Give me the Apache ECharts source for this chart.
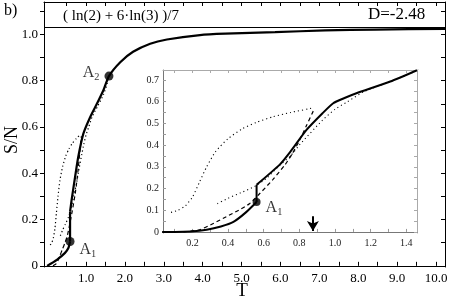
<!DOCTYPE html>
<html>
<head>
<meta charset="utf-8">
<script src="https://cdn.jsdelivr.net/npm/echarts@6.0.0/dist/echarts.min.js"></script>
<style>
  html, body { margin: 0; padding: 0; background: #fff; }
  #chart { width: 450px; height: 300px; }
</style>
</head>
<body>
<div id="chart"></div>
<script>
// data: [T, S/N]
const solidMainLow = [
  [0, 0], [0.25, 0.026], [0.46, 0.056], [0.55, 0.078], [0.59, 0.105]
];
const solidMainHigh = [
  [0.59, 0.234], [0.63, 0.285], [0.72, 0.385], [0.8, 0.47], [0.93, 0.57],
  [1.1, 0.64], [1.28, 0.7], [1.45, 0.76], [1.59, 0.82], [1.88, 0.88],
  [2.21, 0.925], [2.65, 0.96], [3.08, 0.978], [3.93, 0.997], [4.58, 1.003],
  [5.86, 1.01], [7.15, 1.017], [8.43, 1.021], [10.23, 1.024]
];
const solidInsetLow = [
  [0.03, 0], [0.1, 0], [0.19, 0.002], [0.28, 0.01], [0.36, 0.025],
  [0.43, 0.046], [0.5, 0.09], [0.56, 0.138]
];
const solidInsetHigh = [
  [0.56, 0.217], [0.69, 0.31], [0.75, 0.37], [0.84, 0.47], [0.93, 0.547],
  [0.99, 0.593], [1.05, 0.616], [1.12, 0.639], [1.31, 0.693], [1.46, 0.745]
];
const dashed = [
  [0.15, 0], [0.24, 0.01], [0.32, 0.04], [0.39, 0.07], [0.46, 0.1],
  [0.52, 0.13], [0.57, 0.17], [0.65, 0.24], [0.72, 0.31], [0.76, 0.36],
  [0.8, 0.42], [0.84, 0.49], [0.88, 0.56]
];
const dottedUpper = [
  [0.08, 0.09], [0.12, 0.1], [0.16, 0.12], [0.2, 0.16], [0.24, 0.23],
  [0.28, 0.3], [0.33, 0.37], [0.4, 0.43], [0.48, 0.475], [0.56, 0.505],
  [0.65, 0.53], [0.75, 0.55], [0.87, 0.57]
];
const dottedLower = [
  [0.34, 0.13], [0.4, 0.155], [0.47, 0.18], [0.55, 0.21], [0.62, 0.25],
  [0.68, 0.3], [0.75, 0.35], [0.8, 0.4], [0.93, 0.515], [1.0, 0.565],
  [1.07, 0.6], [1.16, 0.645], [1.3, 0.69], [1.45, 0.74], [1.55, 0.79]
];
const a1Main = [0.59, 0.105];
const a2Main = [1.59, 0.82];
const a1Inset = [0.56, 0.138];
const limitValue = 1.03;   // (ln2 + 6 ln3)/7 line
const arrowT = 0.876;

const mainXLabels = [1, 2, 3, 4, 5, 6, 7, 8, 9, 10];
const mainYLabels = [0, 0.2, 0.4, 0.6, 0.8, 1.0];
const insetXLabels = [0.2, 0.4, 0.6, 0.8, 1.0, 1.2, 1.4];
const insetYLabels = [0, 0.1, 0.2, 0.3, 0.4, 0.5, 0.6, 0.7];

const serif = "Liberation Serif";

function steps(from, to, step) {
  const out = [];
  for (let v = from; v <= to + 1e-9; v += step) out.push(+v.toFixed(3));
  return out;
}

const chart = echarts.init(document.getElementById("chart"));

const ptLabel = (pos, offset, size, sub) => ({
  show: true,
  position: pos,
  offset: offset,
  formatter: "{a|A}{s|" + sub + "}",
  rich: {
    a: { fontFamily: serif, fontSize: size, color: "#000", lineHeight: size + 3 },
    s: { fontFamily: serif, fontSize: size * 0.65, color: "#000", verticalAlign: "bottom", lineHeight: size * 0.65 }
  }
});

// axis 0 = main panel, axis 2 = inset
const curve = (axis, data, style, z) => ({
  type: "line", xAxisIndex: axis, yAxisIndex: axis, data: data,
  showSymbol: false, smooth: 0.2, z: z, clip: true,
  lineStyle: Object.assign({ color: "#000" }, style)
});
const dotStyle = { width: 1.2, type: [1.2, 2.6] };
const dashStyle = { width: 1.2, type: [4, 3] };

const option = {
  animation: false,
  backgroundColor: "#fff",
  grid: [
    { left: 44, right: 5, top: 2, bottom: 33, show: false, outerBoundsMode: "none" },
    { left: 163, right: 33, top: 70, bottom: 67, show: true, backgroundColor: "#fff", borderWidth: 0, z: 5, outerBoundsMode: "none" }
  ],
  xAxis: [
    {
      gridIndex: 0, type: "value", min: -0.08, max: 10.23,
      splitLine: { show: false },
      axisLine: { lineStyle: { color: "#000", width: 1 } },
      axisTick: { inside: true, length: 4, customValues: steps(0.5, 10, 0.5), lineStyle: { color: "#000" } },
      axisLabel: {
        customValues: mainXLabels, formatter: (v) => v.toFixed(1),
        fontFamily: serif, fontSize: 13, color: "#000", margin: 5
      }
    },
    {
      gridIndex: 0, type: "value", position: "top", min: -0.08, max: 10.23,
      splitLine: { show: false },
      axisLine: { onZero: false, lineStyle: { color: "#000" } },
      axisTick: { inside: true, length: 4, customValues: steps(0.5, 10, 0.5), lineStyle: { color: "#000" } },
      axisLabel: { show: false }
    },
    {
      gridIndex: 1, type: "value", min: 0.035, max: 1.46, z: 6,
      splitLine: { show: false },
      axisLine: { lineStyle: { color: "#777" } },
      axisTick: { inside: true, length: 3, customValues: steps(0.1, 1.4, 0.1), lineStyle: { color: "#999" } },
      axisLabel: {
        customValues: insetXLabels, formatter: (v) => v.toFixed(1),
        fontFamily: serif, fontSize: 10, color: "#222", margin: 5
      }
    },
    {
      gridIndex: 1, type: "value", position: "top", min: 0.035, max: 1.46, z: 6,
      splitLine: { show: false },
      axisLine: { onZero: false, lineStyle: { color: "#aaa" } },
      axisTick: { inside: true, length: 3, customValues: steps(0.1, 1.4, 0.1), lineStyle: { color: "#aaa" } },
      axisLabel: { show: false }
    }
  ],
  yAxis: [
    {
      gridIndex: 0, type: "value", min: -0.005, max: 1.14,
      splitLine: { show: false },
      axisLine: { onZero: false, lineStyle: { color: "#000" } },
      axisTick: { inside: false, length: 4, customValues: steps(0, 1.1, 0.1), lineStyle: { color: "#000" } },
      axisLabel: {
        customValues: mainYLabels, formatter: (v) => (v === 0 ? "0" : v.toFixed(1)),
        fontFamily: serif, fontSize: 13, color: "#000", margin: 6
      }
    },
    {
      gridIndex: 0, type: "value", position: "right", min: -0.005, max: 1.14,
      splitLine: { show: false },
      axisLine: { onZero: false, lineStyle: { color: "#000" } },
      axisTick: { inside: true, length: 4, customValues: steps(0, 1.1, 0.1), lineStyle: { color: "#000" } },
      axisLabel: { show: false }
    },
    {
      gridIndex: 1, type: "value", min: -0.005, max: 0.746, z: 6,
      splitLine: { show: false },
      axisLine: { onZero: false, lineStyle: { color: "#777" } },
      axisTick: { inside: true, length: 3, customValues: steps(0, 0.7, 0.05), lineStyle: { color: "#999" } },
      axisLabel: {
        customValues: insetYLabels, formatter: (v) => (v === 0 ? "0" : v.toFixed(1)),
        fontFamily: serif, fontSize: 10, color: "#222", margin: 4
      }
    },
    {
      gridIndex: 1, type: "value", position: "right", min: -0.005, max: 0.746, z: 6,
      splitLine: { show: false },
      axisLine: { onZero: false, lineStyle: { color: "#aaa" } },
      axisTick: { inside: true, length: 3, customValues: steps(0, 0.7, 0.05), lineStyle: { color: "#aaa" } },
      axisLabel: { show: false }
    }
  ],
  graphic: [
    { type: "text", left: 4, top: 3, style: { text: "b)", font: "16px 'Liberation Serif'", fill: "#000" } },
    { type: "text", left: 63, top: 9, style: { text: "( ln(2) + 6·ln(3) )/7", font: "15px 'Liberation Serif'", fill: "#000" } },
    { type: "text", left: 368, top: 6, style: { text: "D=-2.48", font: "17px 'Liberation Serif'", fill: "#000" } },
    // axis titles
    { type: "text", x: 242, y: 291, style: { text: "T", font: "19px 'Liberation Serif'", fill: "#000", align: "center", verticalAlign: "middle" } },
    { type: "text", x: 12, y: 140, rotation: Math.PI / 2, style: { text: "S/N", font: "18px 'Liberation Serif'", fill: "#000", align: "center", verticalAlign: "middle" } }
  ],
  series: [
    // main panel
    curve(0, dottedUpper, dotStyle, 2),
    curve(0, dottedLower, dotStyle, 2),
    curve(0, dashed, dashStyle, 2),
    curve(0, solidMainLow, { width: 2.2 }, 3),
    Object.assign(curve(0, solidMainHigh, { width: 2.2 }, 3), {
      markLine: {
        silent: true, symbol: "none", label: { show: false },
        lineStyle: { color: "#000", width: 1, type: "solid" },
        data: [{ yAxis: limitValue }]
      }
    }),
    {
      type: "line", xAxisIndex: 0, yAxisIndex: 0, data: [a1Main, solidMainHigh[0]],
      showSymbol: false, z: 3, lineStyle: { color: "#000", width: 2.2 }
    },
    {
      type: "scatter", xAxisIndex: 0, yAxisIndex: 0, data: [a1Main], symbolSize: 9, z: 4,
      itemStyle: { color: "#000" }, label: ptLabel("right", [0, 8], 16, 1)
    },
    {
      type: "scatter", xAxisIndex: 0, yAxisIndex: 0, data: [a2Main], symbolSize: 9, z: 4,
      itemStyle: { color: "#000" }, label: ptLabel("left", [0, -3], 16, 2)
    },
    // inset panel
    curve(2, dottedUpper, { width: 1.1, type: [1.1, 3] }, 7),
    curve(2, dottedLower, { width: 1.1, type: [1.1, 3] }, 7),
    curve(2, dashed, dashStyle, 7),
    curve(2, solidInsetLow, { width: 2 }, 7),
    curve(2, solidInsetHigh, { width: 2 }, 7),
    {
      type: "line", xAxisIndex: 2, yAxisIndex: 2, data: [a1Inset, solidInsetHigh[0]],
      showSymbol: false, z: 7, lineStyle: { color: "#000", width: 2 },
      markLine: {
        silent: true, symbol: ["none", "arrow"], symbolSize: [9, 10], label: { show: false },
        lineStyle: { color: "#000", width: 2, type: "solid" },
        data: [[{ coord: [arrowT, 0.072] }, { coord: [arrowT, 0.004] }]]
      }
    },
    {
      type: "scatter", xAxisIndex: 2, yAxisIndex: 2, data: [a1Inset], symbolSize: 8, z: 8,
      itemStyle: { color: "#000" }, label: ptLabel("right", [0, 6], 16, 1)
    }
  ]
};

chart.setOption(option);
</script>
</body>
</html>
